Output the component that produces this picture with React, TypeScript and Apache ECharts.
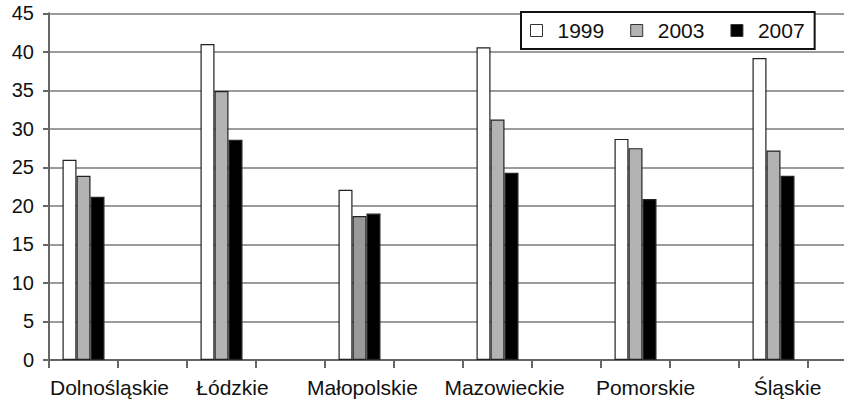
import React, { useEffect, useRef } from "react";
import * as echarts from "echarts";

const regions = ["Dolnośląskie", "Łódzkie", "Małopolskie", "Mazowieckie", "Pomorskie", "Śląskie"];
const years = ["1999", "2003", "2007"];
const values1999 = [26.0, 41.0, 22.1, 40.6, 28.7, 39.2];
const values2003 = [23.9, 34.9, 18.7, 31.2, 27.5, 27.2];
const values2007 = [21.2, 28.6, 19.0, 24.3, 20.9, 23.9];
const yTicks = { min: 0, max: 45, interval: 5 };

// label shifts (px) to mimic hand placement of category labels
const labelShift = [26, 11, 3, 7, 10, 14];

export default function App() {
  const ref = useRef<HTMLDivElement>(null);
  useEffect(() => {
    document.body.style.margin = "0";
    if (!ref.current) return;
    const chart = echarts.init(ref.current, null, { renderer: "svg" });

    // interleave empty category slots between regions
    const cats: string[] = [];
    regions.forEach((r) => {
      cats.push(r);
      cats.push("");
    });
    const spread = (arr: number[]) => {
      const out: any[] = [];
      arr.forEach((v) => {
        out.push(v);
        out.push("-");
      });
      return out;
    };

    const colors = ["#ffffff", "#b3b3b3", "#000000"];
    const seriesVals = [values1999, values2003, values2007];
    const font = "'Liberation Sans', Arial, Helvetica, sans-serif";

    const rich: any = {};
    labelShift.forEach((s, i) => {
      rich["s" + i] = {
        fontFamily: font,
        fontSize: 21,
        color: "#111",
        padding: [0, 0, 0, s * 2],
      };
    });

    chart.setOption({
      animation: false,
      backgroundColor: "#ffffff",
      grid: { left: 49, top: 13.3, width: 828, height: 346.7 },
      legend: {
        data: years,
        left: 521,
        top: 12,
        padding: [8, 10, 8, 9],
        itemWidth: 12,
        itemHeight: 12,
        itemGap: 26,
        backgroundColor: "#ffffff",
        borderColor: "#111",
        borderWidth: 2,
        borderRadius: 0,
        icon: "rect",
        itemStyle: { borderColor: "#333", borderWidth: 1 },
        textStyle: {
          fontFamily: font,
          fontSize: 21,
          color: "#111",
          padding: [0, 0, 0, 10],
        },
      },
      xAxis: {
        type: "category",
        data: cats,
        boundaryGap: true,
        axisLine: { lineStyle: { color: "#666", width: 2 } },
        axisTick: { show: true, length: 8, alignWithLabel: false, interval: 0, lineStyle: { color: "#666", width: 2 } },
        axisLabel: {
          interval: 0,
          margin: 17,
          fontFamily: font,
          fontSize: 21,
          color: "#111",
          formatter: (v: string) => {
            const i = regions.indexOf(v);
            return i >= 0 ? `{s${i}|${v}}` : "";
          },
          rich,
        },
        splitLine: { show: false },
      },
      yAxis: {
        type: "value",
        min: yTicks.min,
        max: yTicks.max,
        interval: yTicks.interval,
        axisLine: { show: true, lineStyle: { color: "#666", width: 2 } },
        axisTick: { show: true, inside: false, length: 6, lineStyle: { color: "#666", width: 2 } },
        axisLabel: { margin: 15, fontFamily: font, fontSize: 20, color: "#111" },
        splitLine: { show: true, lineStyle: { color: "#7a7a7a", width: 1.6 } },
      },
      series: years.map((y, k) => ({
        name: y,
        type: "bar",
        barWidth: 14,
        barGap: "0%",
        itemStyle: { color: colors[k], borderColor: "#222", borderWidth: 1.2 },
        data: spread(seriesVals[k]).map((v, idx) =>
          k === 1 && idx === 4 ? { value: v, itemStyle: { color: "#999999" } } : v
        ),
      })),
    });
    return () => chart.dispose();
  }, []);
  return (
    <div style={{ width: 844, height: 403, overflow: "hidden", position: "relative" }}>
      <div ref={ref} style={{ width: 900, height: 403 }} />
    </div>
  );
}
